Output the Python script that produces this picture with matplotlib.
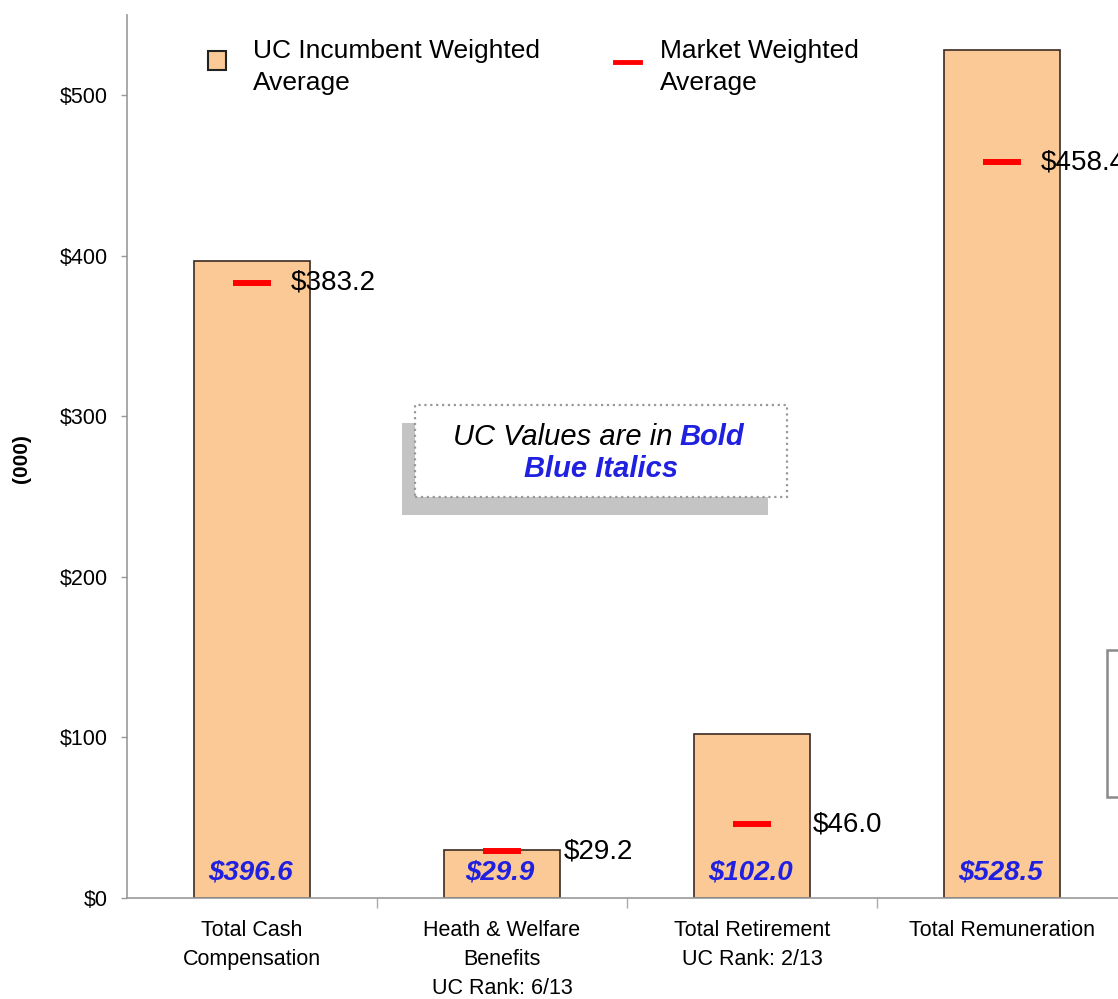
import matplotlib
matplotlib.use("Agg")
import numpy as np
import matplotlib.pyplot as plt
from matplotlib.patches import Rectangle
from matplotlib.lines import Line2D
from matplotlib.text import Annotation

plt.rcParams['font.family'] = ['Liberation Sans', 'DejaVu Sans']

# data
categories = ["Total Cash\nCompensation", "Heath & Welfare\nBenefits\nUC Rank: 6/13",
              "Total Retirement\nUC Rank: 2/13", "Total Remuneration"]
uc_values = [396.6, 29.9, 102.0, 528.5]
market_values = [383.2, 29.2, 46.0, 458.4]
yticks = [0, 100, 200, 300, 400, 500]

# style
label_dx = [39, 62, 61, 39]   # px offset of market labels from category centre
peach = '#FAC995'
edge = '#3b2a22'
blue = '#2020E0'
W, H = 1118, 999

fig = plt.figure(figsize=(W / 100, H / 100), dpi=100)
fig.patch.set_facecolor('white')

def fx(px):
    return px / W

def fy(py):
    return 1 - py / H

# axes runs past the right edge of the picture, like the cropped original
ax = fig.add_axes([fx(127), fy(898), 1000 / W, 883 / H])
x = np.arange(len(categories))

ax.bar(x, uc_values, width=0.465, color=peach, edgecolor=edge, linewidth=1.2, zorder=2)
ax.plot(x, market_values, ls='none', marker='_', ms=27, mew=4.3, color='#FF0000', zorder=3)

for i, v in enumerate(uc_values):
    ax.annotate(r'\$%.1f' % v, xy=(i, 0), xytext=(-2, 26), textcoords='offset pixels',
                ha='center', va='center', fontsize=20, fontweight='bold',
                fontstyle='italic', color=blue, zorder=4)

for i, v in enumerate(market_values):
    ax.annotate(r'\$%.1f' % v, xy=(i, v), xytext=(label_dx[i], 0), textcoords='offset pixels',
                ha='left', va='center', fontsize=20, color='black', zorder=4,
                annotation_clip=False)

ax.set_xlim(-0.5, 3.5)
ax.set_ylim(0, 550)

ax.set_yticks(yticks)
ax.set_yticklabels([r'\$%d' % t for t in yticks], fontsize=15.5)
ax.tick_params(axis='y', length=4, width=1, color='#999999', pad=10)

ax.set_xticks([0.5, 1.5, 2.5])
ax.set_xticklabels([])
ax.tick_params(axis='x', which='major', length=7, width=1, color='#aaaaaa')
ax.set_xticks(x, minor=True)
ax.set_xticklabels(categories, minor=True, fontsize=15.5, linespacing=1.5)
ax.tick_params(axis='x', which='minor', length=0, pad=16)

for s in ['top', 'right']:
    ax.spines[s].set_visible(False)
for s in ['left', 'bottom']:
    ax.spines[s].set_color('#999999')
    ax.spines[s].set_linewidth(1.2)

fig.text(fx(22), fy(459), '(000)', rotation=90, fontsize=15, fontweight='bold',
         ha='center', va='center')

# legend
fig.add_artist(Rectangle((fx(208), fy(70)), 18 / W, 19 / H, transform=fig.transFigure,
                         facecolor=peach, edgecolor='#222222', linewidth=1.5))
fig.text(fx(253), fy(39), 'UC Incumbent Weighted\nAverage', fontsize=19,
         ha='left', va='top', linespacing=1.4)
fig.add_artist(Line2D([fx(615), fx(640)], [fy(62), fy(62)], transform=fig.transFigure,
                      color='#FF0000', linewidth=3.5))
fig.text(fx(660), fy(39), 'Market Weighted\nAverage', fontsize=19,
         ha='left', va='top', linespacing=1.4)

# note box with shadow
fig.add_artist(Rectangle((fx(402), fy(515)), 366 / W, 92 / H, transform=fig.transFigure,
                         facecolor='#C4C4C4', edgecolor='none'))
fig.add_artist(Rectangle((fx(415), fy(497)), 372 / W, 92 / H, transform=fig.transFigure,
                         facecolor='white', edgecolor='#999999', linestyle=':', linewidth=1.6))
t1 = fig.text(fx(453), fy(437), 'UC Values are in', fontsize=21, fontstyle='italic',
              ha='left', va='center')
fig.add_artist(Annotation('Bold', xy=(1, 0), xycoords=t1, xytext=(5, 0),
                          textcoords='offset points', ha='left', va='bottom',
                          fontsize=21, fontstyle='italic', fontweight='bold', color=blue))
fig.text(fx(601), fy(469), 'Blue Italics', fontsize=21, fontstyle='italic',
         fontweight='bold', color=blue, ha='center', va='center')

# partly visible box at the right edge
fig.add_artist(Rectangle((fx(1107), fy(797)), 40 / W, 147 / H, transform=fig.transFigure,
                         facecolor='white', edgecolor='#8a8a8a', linewidth=1.8))

fig.savefig('out.png', dpi=100)
